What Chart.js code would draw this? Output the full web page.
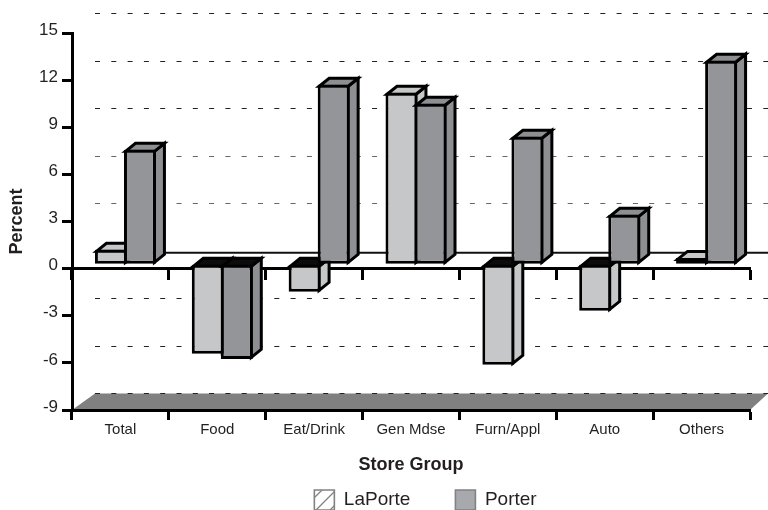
<!DOCTYPE html>
<html><head><meta charset="utf-8">
<style>html,body{margin:0;padding:0;background:#fff}#w{width:768px;height:510px}</style>
<script src="https://cdn.jsdelivr.net/npm/chart.js@4/dist/chart.umd.min.js"></script>
</head><body><div id="w"><canvas id="c" width="768" height="510"></canvas></div>
<script>
const categories = ["Total","Food","Eat/Drink","Gen Mdse","Furn/Appl","Auto","Others"];
const laPorte = [0.92,-5.7,-1.75,10.92,-6.4,-2.96,0.41];
const porter = [7.29,-6.02,11.43,10.22,8.12,3.15,12.96];
const FONT = "'Liberation Sans', Arial, sans-serif";
const INK = "#231f20";
const EDGE = 3;

function hatch(){
  const p = document.createElement("canvas"); p.width = p.height = 14;
  const g = p.getContext("2d");
  g.fillStyle = "#fff"; g.fillRect(0,0,14,14);
  g.strokeStyle = "#808285"; g.lineWidth = 1.3;
  g.beginPath(); g.moveTo(-2,16); g.lineTo(16,-2); g.moveTo(-2,2); g.lineTo(2,-2); g.moveTo(12,16); g.lineTo(16,12); g.stroke();
  return p;
}

const DEPTH = {dx:10, dy:-8};
const PLANE = {dx:5, dy:-4.3};
const WALL = {dx:23};

function drawDepth(chart, meta, ds){
  const c = chart.ctx;
  c.save();
  c.strokeStyle="#000"; c.lineWidth=EDGE; c.lineJoin="miter";
  meta.data.forEach(b=>{
    const l=b.x-b.width/2+1.5, r=b.x+b.width/2-1.5, t=Math.min(b.y,b.base)+1.5, u=Math.max(b.y,b.base)-1.5;
    c.fillStyle = ds.sideColor;
    c.beginPath(); c.moveTo(r,t); c.lineTo(r+DEPTH.dx,t+DEPTH.dy); c.lineTo(r+DEPTH.dx,u+DEPTH.dy); c.lineTo(r,u); c.closePath(); c.fill(); c.stroke();
    c.fillStyle = b.y>b.base ? "#0c0c0c" : ds.sideColor;
    c.beginPath(); c.moveTo(l,t); c.lineTo(l+DEPTH.dx,t+DEPTH.dy); c.lineTo(r+DEPTH.dx,t+DEPTH.dy); c.lineTo(r,t); c.closePath(); c.fill(); c.stroke();
  });
  c.restore();
}

const threeD = {
  id:"threeD",
  beforeDraw(chart){
    const c = chart.ctx, a = chart.chartArea, y = chart.scales.y;
    const lift = p => -20 + 3*(p-a.top)/(a.bottom-a.top);
    c.save();
    const fy = y.getPixelForValue(-9);
    const by = Math.round(fy+lift(fy))+0.5;
    c.fillStyle = "#808080";
    c.beginPath(); c.moveTo(a.left,fy); c.lineTo(a.left+WALL.dx,by); c.lineTo(768,by); c.lineTo(a.right,fy); c.closePath(); c.fill();
    y.ticks.forEach(t=>{
      const p = y.getPixelForValue(t.value);
      c.lineWidth = 1;
      if (t.value===0){
        c.setLineDash([]); c.strokeStyle="#111"; c.lineWidth=2;
        c.beginPath(); c.moveTo(a.left+WALL.dx,p-16); c.lineTo(768,p-16); c.stroke();
        return;
      }
      const yy = Math.round(p+lift(p))+0.5;
      c.setLineDash([5,11.3]);
      c.strokeStyle = (t.value===6||t.value===3) ? "#666" : "#222";
      c.beginPath(); c.moveTo(a.left+WALL.dx,yy); c.lineTo(768,yy); c.stroke();
    });
    c.restore();
  },
  beforeDatasetsDraw(chart){ chart.ctx.save(); chart.ctx.translate(PLANE.dx,PLANE.dy); },
  afterDatasetsDraw(chart){ chart.ctx.restore(); },
  // Porter sits in front of LaPorte, so it is painted straight after LaPorte.
  beforeDatasetDraw(chart,args){
    if (args.index===1) return false;
    drawDepth(chart,args.meta,chart.data.datasets[args.index]);
  },
  afterDatasetDraw(chart,args){
    if (args.index!==0) return;
    const m = chart.getDatasetMeta(1);
    drawDepth(chart,m,chart.data.datasets[1]);
    m.data.forEach(b=>b.draw(chart.ctx));
  },
  afterLayout(chart){
    const lg = chart.legend;
    lg.left += 50.5; lg.right += 50.5; lg.top = 445;
  }
};

const tickGrid = {drawOnChartArea:false, drawTicks:true, tickLength:10, tickColor:"#000", tickWidth:3};
const axisBorder = {display:true, color:"#000", width:3};

new Chart(document.getElementById("c"),{
  type:"bar",
  plugins:[threeD],
  data:{labels:categories,datasets:[
    {label:"LaPorte",data:laPorte,backgroundColor:"#c6c7c9",sideColor:"#c6c7c9",borderColor:"#000",borderWidth:EDGE,borderSkipped:false,clip:false},
    {label:"Porter",data:porter,backgroundColor:"#939598",sideColor:"#8d8f93",borderColor:"#000",borderWidth:EDGE,borderSkipped:false,clip:false}
  ]},
  options:{
    responsive:false,animation:false,
    layout:{padding:{top:33,right:18,left:0,bottom:0}},
    categoryPercentage:0.6,barPercentage:1.1,
    plugins:{
      title:{display:false},tooltip:{enabled:false},
      legend:{
        display:true,position:"bottom",maxHeight:30,
        labels:{
          boxWidth:20,boxHeight:20,padding:45,color:INK,font:{family:FONT,size:19},
          generateLabels(chart){
            const pat = chart.ctx.createPattern(hatch(),"repeat");
            return [
              {text:"LaPorte",fillStyle:pat,strokeStyle:"#808285",lineWidth:1.6,fontColor:INK,datasetIndex:0},
              {text:"Porter",fillStyle:"#a7a9ac",strokeStyle:"#808285",lineWidth:1.6,fontColor:INK,datasetIndex:1}
            ];
          }
        }
      }
    },
    scales:{
      x:{
        type:"category",position:"bottom",offset:true,
        grid:{...tickGrid,offset:true},border:axisBorder,
        ticks:{color:INK,font:{family:FONT,size:15},padding:1,maxRotation:0,autoSkip:false},
        title:{display:true,text:"Store Group",color:INK,font:{family:FONT,size:18,weight:"bold"},padding:{top:0,bottom:4}},
        afterFit(s){s.height=70;}
      },
      x0:{
        type:"category",axis:"x",position:{y:0},offset:true,labels:categories,
        grid:{...tickGrid,offset:true},border:axisBorder,
        ticks:{display:false}
      },
      y:{
        type:"linear",position:"left",min:-9,max:15,
        grid:tickGrid,border:axisBorder,
        ticks:{stepSize:3,color:INK,font:{family:FONT,size:17},padding:4,labelOffset:-3},
        title:{display:true,text:"Percent",color:INK,font:{family:FONT,size:18,weight:"bold"},padding:{top:6,bottom:0}},
        afterFit(s){s.width=72;}
      }
    }
  }
});
</script></body></html>
